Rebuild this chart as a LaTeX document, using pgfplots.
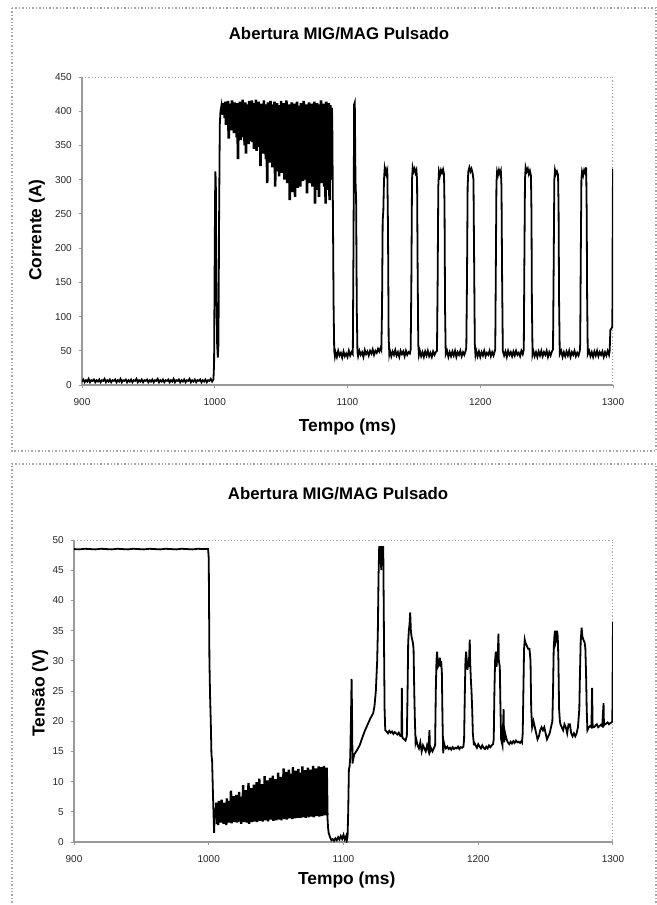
\documentclass[border=0pt]{standalone}
\usepackage{pgfplots}
\pgfplotsset{compat=1.18}
\usepackage{fontspec}
\setmainfont{Liberation Sans}
\begin{document}
\begin{tikzpicture}[x=1pt,y=1pt]
\useasboundingbox (0,0) rectangle (328.5,-452.5);
\draw[gray!70, densely dotted, line width=0.7pt] (6,-4) rectangle (328,-225.5);
\draw[gray!70, densely dotted, line width=0.7pt] (6,-470) -- (6,-232) -- (328,-232) -- (328,-470);
\pgfplotsset{
  myaxis/.style={
    scale only axis,
    anchor=south west,
    xmin=900, xmax=1300,
    xtick={900,1000,1100,1200,1300},
    axis lines*=left,
    axis line style={gray!80, line width=0.6pt},
    tick style={gray!80, line width=0.5pt},
    tick align=outside,
    major tick length=1.6pt,
    /pgf/number format/assume math mode=true,
    /pgf/number format/1000 sep={},
    ticklabel style={font=\fontsize{5}{6}\selectfont, text=black!85},
    xticklabel style={yshift=-1.5pt},
    title style={font=\fontsize{8.4}{9}\selectfont\bfseries, anchor=center},
    xlabel style={font=\fontsize{8.7}{10}\selectfont\bfseries, anchor=center},
    ylabel style={font=\fontsize{8.7}{10}\selectfont\bfseries, anchor=center},
    clip=true,
  }
}
\begin{axis}[myaxis,
  at={(41pt,-192.5pt)}, width=265.5pt, height=154pt,
  ymin=0, ymax=450, ytick={0,50,100,150,200,250,300,350,400,450},
  title={Abertura MIG/MAG Pulsado},
  title style={at={(axis description cs:0.484,1.101)}},
  xlabel={Tempo (ms)},
  xlabel style={at={(axis description cs:0.5,-0.136)}},
  ylabel={Corrente (A)},
  ylabel style={at={(axis description cs:-0.085,0.503)}},
]
\draw[gray!70, densely dotted, line width=0.6pt] (rel axis cs:0,1) -- (rel axis cs:1,1) -- (rel axis cs:1,0);
\addplot[black, line width=0.9pt] coordinates {
(900,5)(901,8)(902,4)(903,7)(904,5)(905,9)(906,4)(907,7)(908,6)(909,8)(910,4)(911,7)(912,5)(913,8)(914,4)(915,7)(916,6)(917,9)(918,4)(919,7)(920,5)(921,8)(922,4)(923,7)(924,6)(925,8)(926,4)(927,7)(928,5)(929,9)(930,4)(931,7)(932,6)(933,8)(934,4)(935,7)(936,5)(937,8)(938,4)(939,7)(940,6)(941,9)(942,4)(943,7)(944,5)(945,8)(946,4)(947,7)(948,6)(949,8)(950,4)(951,7)(952,5)(953,8)(954,4)(955,7)(956,6)(957,9)(958,4)(959,7)(960,5)(961,8)(962,4)(963,7)(964,6)(965,8)(966,4)(967,7)(968,5)(969,9)(970,4)(971,7)(972,6)(973,8)(974,4)(975,7)(976,5)(977,8)(978,4)(979,7)(980,6)(981,9)(982,4)(983,7)(984,5)(985,8)(986,4)(987,7)(988,6)(989,8)(990,4)(991,7)(992,5)(993,8)(994,4)(995,7)(996,6)(997,9)(998,5)
(999,8)(999.5,30)(1000,200)(1000.4,312)(1000.8,300)(1001.2,150)(1001.8,60)(1002.3,40)(1002.8,60)(1003.3,250)(1003.8,380)(1004.3,400)(1005,408)(1005.5,395)(1006,412)
};
\addplot[black, line width=1.3pt] coordinates {
(1006,412)(1006.5,395)(1007,410)(1007.5,390)(1008,414)(1008.5,380)(1009,408)(1009.5,392)(1010,415)(1010.5,360)(1011,411)(1011.5,385)(1012,405)(1012.5,372)(1013,416)(1013.5,380)(1014,409)(1014.5,368)(1015,413)(1015.5,375)(1016,406)(1016.5,362)(1017,412)(1017.5,330)(1018,410)(1018.5,370)(1019,414)(1019.5,358)(1020,405)(1020.5,376)(1021,417)(1021.5,362)(1022,408)(1022.5,350)(1023,413)(1023.5,338)(1024,410)(1024.5,366)(1025,404)(1025.5,352)(1026,415)(1026.5,370)(1027,409)(1027.5,356)(1028,416)(1028.5,355)(1029,406)(1029.5,345)(1030,412)(1030.5,360)(1031,417)(1031.5,342)(1032,410)(1032.5,365)(1033,414)(1033.5,348)(1034,404)(1034.5,320)(1035,411)(1035.5,352)(1036,408)(1036.5,338)(1037,416)(1037.5,355)(1038,405)(1038.5,330)(1039,410)(1039.5,295)(1040,413)(1040.5,345)(1041,407)(1041.5,325)(1042,415)(1042.5,340)(1043,404)(1043.5,318)(1044,410)(1044.5,335)(1045,414)(1045.5,290)(1046,406)(1046.5,330)(1047,412)(1047.5,312)(1048,403)(1048.5,305)(1049,409)(1049.5,328)(1050,415)(1050.5,310)(1051,405)(1051.5,325)(1052,412)(1052.5,300)(1053,408)(1053.5,318)(1054,416)(1054.5,295)(1055,404)(1055.5,312)(1056,410)(1056.5,270)(1057,407)(1057.5,290)(1058,413)(1058.5,282)(1059,402)(1059.5,300)(1060,411)(1060.5,275)(1061,406)(1061.5,305)(1062,414)(1062.5,288)(1063,408)(1063.5,310)(1064,403)(1064.5,290)(1065,412)(1065.5,315)(1066,407)(1066.5,298)(1067,415)(1067.5,320)(1068,405)(1068.5,300)(1069,410)(1069.5,280)(1070,404)(1070.5,310)(1071,413)(1071.5,295)(1072,406)(1072.5,318)(1073,411)(1073.5,290)(1074,403)(1074.5,308)(1075,414)(1075.5,265)(1076,407)(1076.5,300)(1077,412)(1077.5,285)(1078,404)(1078.5,275)(1079,410)(1079.5,310)(1080,416)(1080.5,295)(1081,405)(1081.5,320)(1082,411)(1082.5,290)(1083,408)(1083.5,265)(1084,414)(1084.5,300)(1085,405)(1085.5,285)(1086,412)(1086.5,270)(1087,409)(1087.5,300)(1088,405)
};
\addplot[black, line width=0.9pt] coordinates {
(1088,405)(1088.5,395)(1089,260)(1089.5,120)(1090,50)(1090.5,42)
(1091,48)(1092,41)(1093,50)(1094,43)(1095,47)(1096,40)(1097,49)(1098,42)(1099,46)(1100,41)(1101,50)(1102,43)(1103,48)(1104,45)(1104.5,200)(1105,410)(1105.5,413)(1106,300)(1106.5,270)(1107,110)(1107.5,48)
(1108,42)(1109,50)(1110,44)(1111,48)(1112,41)(1113,51)(1114,45)(1115,49)(1116,43)(1117,50)(1118,46)(1119,52)(1120,44)(1121,50)(1122,47)(1123,53)(1124,49)(1125,55)(1125.5,52)
(1126,110)(1126.5,240)(1127,255)(1127.5,300)(1128,316)(1128.5,310)(1129,314)(1129.5,308)(1130,312)(1130.5,230)(1131,70)(1131.5,45)
(1132,50)(1133,42)(1134,49)(1135,44)(1136,51)(1137,43)(1138,48)(1139,41)(1140,50)(1141,45)(1142,49)(1143,42)(1144,50)(1145,44)(1146,48)(1147,46)(1147.6,52)
(1148.1,150)(1148.6,300)(1149.1,318)(1149.8,312)(1150.5,316)(1151.2,310)(1151.9,314)(1152.4,300)(1152.8,180)(1153.3,60)(1153.8,44)
(1154.5,50)(1155.5,42)(1156.5,48)(1157.5,41)(1158.5,49)(1159.5,43)(1160.5,50)(1161.5,42)(1162.5,47)(1163.5,41)(1164.5,49)(1165.5,44)(1166.5,48)(1167.4,50)
(1167.9,150)(1168.4,290)(1168.9,312)(1169.6,306)(1170.4,314)(1171.2,310)(1172,315)(1172.7,308)(1173.1,260)(1173.5,110)(1174,45)
(1175,50)(1176,41)(1177,48)(1178,42)(1179,49)(1180,43)(1181,50)(1182,41)(1183,48)(1184,44)(1185,50)(1186,42)(1187,48)(1188,44)(1189,50)(1189.5,55)
(1190,150)(1190.5,290)(1191,312)(1191.8,318)(1192.6,312)(1193.4,316)(1194.2,310)(1194.9,300)(1195.4,180)(1195.9,60)(1196.4,44)
(1197,50)(1198,42)(1199,49)(1200,41)(1201,48)(1202,43)(1203,50)(1204,42)(1205,47)(1206,44)(1207,50)(1208,42)(1209,48)(1210,43)(1211,50)(1211.3,52)
(1211.7,160)(1212.2,295)(1212.7,312)(1213.4,307)(1214.1,314)(1214.8,309)(1215.5,313)(1216,290)(1216.5,150)(1217,50)
(1218,43)(1219,49)(1220,41)(1221,50)(1222,44)(1223,48)(1224,42)(1225,49)(1226,43)(1227,50)(1228,44)(1229,47)(1230,42)(1231,50)(1232,45)(1232.8,52)
(1233.2,170)(1233.7,300)(1234.2,318)(1235,312)(1235.8,316)(1236.6,308)(1237.4,313)(1238.2,306)(1238.6,250)(1238.9,120)(1239.4,45)
(1240,50)(1241,42)(1242,48)(1243,41)(1244,49)(1245,43)(1246,50)(1247,42)(1248,48)(1249,44)(1250,50)(1251,41)(1252,48)(1253,43)(1254,49)(1254.8,52)
(1255.3,170)(1255.8,300)(1256.3,314)(1257,308)(1257.8,312)(1258.6,307)(1259,260)(1259.4,120)(1259.9,45)
(1261,50)(1262,41)(1263,48)(1264,42)(1265,49)(1266,43)(1267,50)(1268,41)(1269,48)(1270,44)(1271,50)(1272,42)(1273,47)(1274,43)(1275,50)(1275.3,60)
(1275.7,180)(1276.2,300)(1276.7,312)(1277.5,306)(1278.3,314)(1279.1,310)(1279.8,318)(1280.2,250)(1280.5,130)(1281,45)
(1282,50)(1283,42)(1284,48)(1285,41)(1286,49)(1287,43)(1288,50)(1289,42)(1290,48)(1291,44)(1292,49)(1293,41)(1294,48)(1295,43)(1296,50)(1297,44)(1297.5,50)
(1298,80)(1299.5,85)(1299.8,250)(1300,316)
};
\end{axis}
\begin{axis}[myaxis,
  at={(37pt,-421pt)}, width=269.5pt, height=151pt,
  ymin=0, ymax=50, ytick={0,5,10,15,20,25,30,35,40,45,50},
  title={Abertura MIG/MAG Pulsado},
  title style={at={(axis description cs:0.49,1.113)}},
  xlabel={Tempo (ms)},
  xlabel style={at={(axis description cs:0.506,-0.126)}},
  ylabel={Tensão (V)},
  ylabel style={at={(axis description cs:-0.063,0.493)}},
]
\draw[gray!70, densely dotted, line width=0.6pt] (rel axis cs:0,1) -- (rel axis cs:1,1) -- (rel axis cs:1,0);
\addplot[black, line width=0.9pt] coordinates {
(900,48.5)(904,48.45)(908,48.55)(912,48.5)(916,48.45)(920,48.55)(924,48.5)(928,48.45)(932,48.55)(936,48.5)(940,48.45)(944,48.55)(948,48.5)(952,48.45)(956,48.55)(960,48.5)(964,48.45)(968,48.55)(972,48.5)(976,48.45)(980,48.55)(984,48.5)(988,48.45)(992,48.55)(996,48.5)(999.5,48.5)
(1000,47)(1000.5,30)(1001,24)(1001.5,20)(1002,14.5)(1002.5,13.5)(1003,9)(1003.5,5)(1004,1.5)(1004.5,5.5)(1005,4)
};
\addplot[black, line width=1.2pt] coordinates {
(1005,4)(1005.5,6.5)(1006,3)(1006.5,6)(1007,2.8)(1007.5,6.8)(1008,3.5)(1008.5,5.5)(1009,3.2)(1009.5,7)(1010,4)(1010.5,6.2)(1011,3)(1011.5,6.5)(1012,3.6)(1012.5,5.8)(1013,2.8)(1013.5,7.2)(1014,3.5)(1014.5,6.4)(1015,3.2)(1015.5,6.8)(1016,4)(1016.5,8.5)(1017,3.1)(1017.5,6.5)(1018,3.8)(1018.5,7.6)(1019,3.3)(1019.5,6.2)(1020,3.7)(1020.5,7.8)(1021,3.2)(1021.5,6.9)(1022,3.9)(1022.5,8.3)(1023,3.4)(1023.5,7.1)(1024,3.0)(1024.5,7.5)(1025,3.8)(1025.5,9.4)(1026,3.3)(1026.5,7.3)(1027,3.9)(1027.5,8.6)(1028,3.2)(1028.5,7.4)(1029,3.8)(1029.5,9.8)(1030,3.0)(1030.5,7.8)(1031,3.6)(1031.5,8.9)(1032,3.3)(1032.5,7.6)(1033,3.9)(1033.5,9.5)(1034,3.4)(1034.5,8.2)(1035,3.8)(1035.5,9.9)(1036,3.3)(1036.5,8.1)(1037,4.0)(1037.5,10.5)(1038,3.5)(1038.5,8.4)(1039,3.9)(1039.5,9.6)(1040,3.4)(1040.5,8.8)(1041,4.1)(1041.5,10.9)(1042,3.6)(1042.5,8.6)(1043,3.9)(1043.5,10.2)(1044,3.4)(1044.5,9.1)(1045,4.2)(1045.5,10.6)(1046,3.7)(1046.5,9.0)(1047,4.0)(1047.5,11.0)(1048,3.5)(1048.5,9.4)(1049,4.3)(1049.5,10.4)(1050,3.6)(1050.5,9.8)(1051,4.1)(1051.5,11.5)(1052,3.7)(1052.5,9.6)(1053,4.3)(1053.5,10.8)(1054,3.6)(1054.5,9.9)(1055,4.2)(1055.5,12.2)(1056,3.8)(1056.5,10.1)(1057,4.4)(1057.5,11.6)(1058,3.7)(1058.5,10.3)(1059,4.3)(1059.5,12.0)(1060,3.9)(1060.5,10.5)(1061,4.5)(1061.5,11.3)(1062,3.8)(1062.5,12.4)(1063,4.4)(1063.5,10.6)(1064,3.9)(1064.5,11.8)(1065,4.5)(1065.5,10.4)(1066,4.0)(1066.5,12.1)(1067,4.6)(1067.5,10.9)(1068,4.0)(1068.5,11.5)(1069,4.4)(1069.5,12.5)(1070,4.1)(1070.5,10.8)(1071,4.6)(1071.5,11.9)(1072,4.0)(1072.5,10.7)(1073,4.5)(1073.5,12.3)(1074,4.1)(1074.5,11.1)(1075,4.6)(1075.5,12.0)(1076,4.2)(1076.5,10.9)(1077,4.7)(1077.5,12.6)(1078,4.1)(1078.5,11.4)(1079,4.6)(1079.5,12.2)(1080,4.3)(1080.5,11.0)(1081,4.7)(1081.5,12.5)(1082,4.2)(1082.5,11.3)(1083,4.8)(1083.5,12.4)(1084,4.3)(1084.5,11.7)(1085,4.7)(1085.5,12.6)(1086,4.4)(1086.5,11.2)(1087,4.6)(1087.5,12.3)(1088,4.5)
};
\addplot[black, line width=0.9pt] coordinates {
(1088,4.5)(1088.5,2.5)(1089,1.5)(1090,0.8)(1091,0.3)(1092,0.5)(1093,0.2)(1094,0.6)(1095,0.3)(1096,0.8)(1097,0.4)(1098,1.0)(1099,0.5)(1100,1.2)(1101,0.4)(1102,1.0)(1102.5,0.3)(1103,0.8)(1103.5,5)(1104,12)(1104.5,12.5)(1105,14)(1105.5,20)(1106,27)(1106.3,22)(1106.7,13)(1107,13.5)(1108,14.5)(1110,15.2)(1112,16)(1114,17.3)(1116,18.5)(1118,19.5)(1120,20.5)(1122,21.3)(1123,22.5)(1124,25)(1125,30)(1125.5,35)(1126,44)(1126.5,49)(1127,46)(1127.5,49)(1128,45)(1128.5,49)(1129,47)(1129.5,49)(1130,35)(1130.5,22)(1131,18.5)
(1132,18.3)(1133,18)(1134,18.4)(1135,18.1)(1136,18.3)(1137,17.9)(1138,18.2)(1139,18)(1140,17.8)(1141,18.1)(1142,17.6)(1143,17.5)(1143.3,25.5)(1143.6,17.5)(1144,17.2)(1145,17)(1146,16.8)(1147,17.5)(1147.5,24)(1148,33)(1148.5,35)(1149,36)(1149.5,38)(1150,35)(1150.5,34)(1151,33.5)(1151.5,33)(1152,32)(1152.5,25)(1153,20)(1153.5,16.5)
(1154,17)(1155,16)(1156,15.5)(1157,16.5)(1158,15)(1159,16)(1160,15.5)(1161,15)(1162,16)(1163,15.2)(1163.8,18.5)(1164.2,15)(1165,15.5)(1166,15)(1167,15.5)(1168,16)(1168.5,25)(1169,30)(1169.5,31.5)(1170,29)(1171,29.5)(1171.5,30.5)(1172,29)(1172.5,30)(1173,28)(1173.5,20)(1174,14.7)(1174.5,16.5)
(1175,16)(1176,15.5)(1177,15.8)(1178,15.4)(1179,15.6)(1180,15.3)(1181,15.7)(1182,15.4)(1183,15.6)(1184,15.5)(1185,15.8)(1186,15.4)(1187,15.7)(1188,15.6)(1189,15.8)(1189.5,17)(1190,24)(1190.5,30)(1191,31.5)(1191.5,30)(1192,28.5)(1192.5,30)(1193,29)(1193.7,33.5)(1194,30)(1194.5,27)(1195,25)(1195.5,22)(1196,18)(1196.8,16)
(1197,16.5)(1198,16)(1199,15.6)(1200,16.2)(1201,15.8)(1202,15.5)(1203,16)(1204,15.6)(1205,15.4)(1206,15.8)(1207,15.5)(1208,16)(1209,15.7)(1210,16)(1211,16.2)(1211.5,17)(1212,25)(1212.5,30)(1213,31.5)(1213.5,29)(1214,30)(1214.5,31)(1215,34.5)(1215.3,30)(1216,29)(1216.5,22)(1217,17)(1218,16)(1218.8,22)(1219.2,16.5)
(1220,18)(1221,17)(1222,16.5)(1223,16.2)(1224,16.6)(1225,16.3)(1226,16.7)(1227,16.4)(1228,16.8)(1229,16.5)(1230,16.6)(1231,16.4)(1232,16.7)(1232.5,16.5)(1233,18)(1233.5,25)(1234,32)(1234.5,33.5)(1235,33)(1236,32.5)(1237,32)(1238,32)(1238.8,30)(1239.3,22)
(1240,19)(1241,20)(1242,19)(1243,18)(1244,17)(1245,17.5)(1246,18.5)(1247,19)(1248,18.5)(1249,19)(1250,18)(1251,17)(1252,17.5)(1253,18)(1254,19)(1255,20)(1255.5,25)(1256,32)(1256.5,34)(1257,35)(1257.4,33)(1258,33.5)(1258.5,35)(1259,34)(1259.5,30)(1260,22)(1260.6,20)
(1261,19.5)(1262,19)(1263,18.5)(1264,19.5)(1265,19)(1266,18)(1267,19.5)(1268,19.5)(1269,18)(1270,17.5)(1271,18)(1272,17.5)(1273,18)(1274,19)(1275,22)(1275.5,28)(1276,33)(1276.7,35.5)(1277.3,34)(1278,33.5)(1279,33)(1279.5,32)(1280,28)(1280.5,22)(1281,18.5)
(1282,19)(1283,19.2)(1284,19)(1284.5,25.5)(1284.9,19)(1286,19)(1287,19.3)(1288,19.5)(1289,19)(1290,19.2)(1291,19.4)(1292,19.2)(1293,23)(1293.3,19.3)(1294,19.5)(1295,19.6)(1296,19.8)(1297,19.5)(1298,19.7)(1299,19.8)(1299.5,20)(1299.8,30)(1300,36.5)
};
\end{axis}
\end{tikzpicture}
\end{document}
